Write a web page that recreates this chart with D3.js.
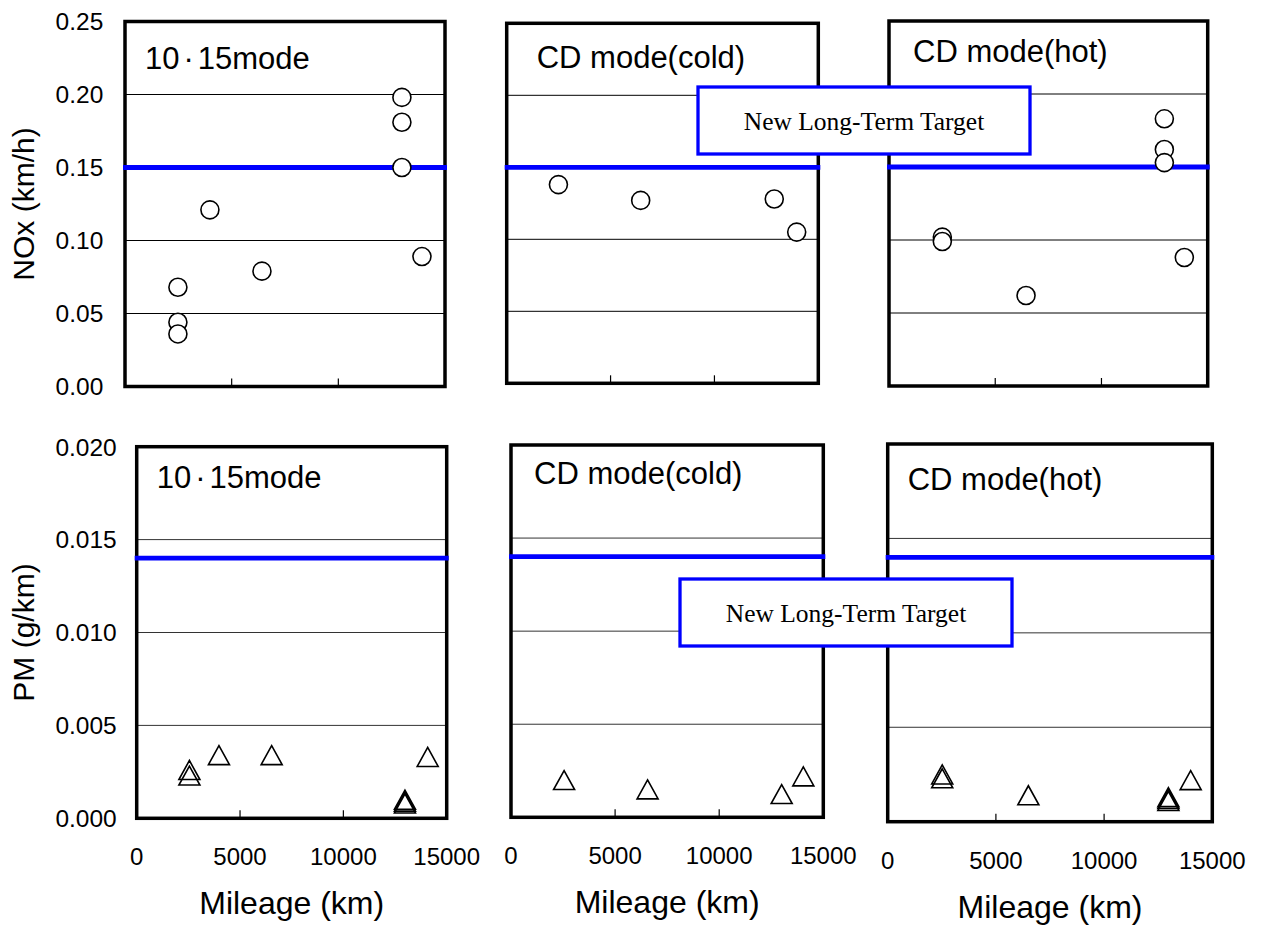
<!DOCTYPE html>
<html><head><meta charset="utf-8">
<script src="https://cdn.jsdelivr.net/npm/d3@7"></script>
<style>body{margin:0;background:#fff;} svg{display:block;}</style>
</head><body><svg id="chart" width="1261" height="926"></svg>
<script>
// ---- data ----
const mileageTicks = [0, 5000, 10000, 15000];
const mileageTickLabels = ["0", "5000", "10000", "15000"];
const noxTicks = [0, 0.05, 0.10, 0.15, 0.20, 0.25];
const noxTickLabels = ["0.00", "0.05", "0.10", "0.15", "0.20", "0.25"];
const pmTicks = [0, 0.005, 0.010, 0.015, 0.020];
const pmTickLabels = ["0.000", "0.005", "0.010", "0.015", "0.020"];
const modeNames = ["10\u00B715mode", "CD mode(cold)", "CD mode(hot)"];
const noxTitle = "NOx (km/h)";
const pmTitle = "PM (g/km)";
const xTitle = "Mileage (km)";
const targetLabel = "New Long-Term Target";
const noxLimit = 0.15;
const pmLimit = 0.014;

const noxMileage1015 = [2480, 2480, 2480, 3980, 6420, 12980, 12980, 12980, 13920];
const noxValues1015  = [0.068, 0.044, 0.036, 0.121, 0.079, 0.198, 0.181, 0.150, 0.089];
const noxMileageCold = [2490, 6450, 12880, 13960];
const noxValuesCold  = [0.138, 0.127, 0.128, 0.105];
const noxMileageHot  = [2510, 2510, 6450, 12960, 12960, 12960, 13900];
const noxValuesHot   = [0.102, 0.099, 0.062, 0.183, 0.162, 0.153, 0.088];

const pmMileage1015 = [2550, 2550, 3980, 6530, 12980, 12980, 12980, 14080];
const pmValues1015  = [0.0026, 0.0023, 0.0034, 0.0034, 0.0010, 0.0009, 0.0008, 0.0033];
const pmMileageCold = [2550, 6560, 13000, 14040];
const pmValuesCold  = [0.0020, 0.0015, 0.00125, 0.0022];
const pmMileageHot  = [2520, 2520, 6500, 12970, 12970, 12970, 14000];
const pmValuesHot   = [0.0025, 0.0023, 0.0014, 0.0013, 0.0012, 0.0011, 0.0022];

// ---- layout ----
const frames = [
  [{l:125, r:445, t:21.5, b:386.5, tx:20, ty:47},
   {l:506.7, r:818.3, t:23.3, b:383.3, tx:30, ty:45},
   {l:889, r:1207.7, t:21, b:386, tx:24, ty:41}],
  [{l:136.7, r:446.7, t:446.7, b:818.3, tx:20, ty:41},
   {l:511, r:823.3, t:445, b:817.3, tx:23, ty:39},
   {l:887.7, r:1212.3, t:444, b:821.7, tx:20, ty:46}]
];
const targetBoxes = [{x:698, y:87, w:332, h:67}, {x:680, y:579, w:332, h:67}];
const FONT = "'Liberation Sans', Arial, sans-serif";
const BLUE = "#0000ff";

const rows = [
  {domain:[0,0.25], ticks:noxTicks, labels:noxTickLabels, limit:noxLimit, marker:"circle", title:noxTitle, labelGap:21.7,
   series:[[noxMileage1015, noxValues1015],[noxMileageCold, noxValuesCold],[noxMileageHot, noxValuesHot]]},
  {domain:[0,0.02], ticks:pmTicks, labels:pmTickLabels, limit:pmLimit, marker:"triangle", title:pmTitle, labelGap:20,
   series:[[pmMileage1015, pmValues1015],[pmMileageCold, pmValuesCold],[pmMileageHot, pmValuesHot]]}
];

const svg = d3.select("#chart");
svg.append("rect").attr("width",1261).attr("height",926).attr("fill","#fff");

const triW = 21, triH = 19;
function triPath(cx, cy){
  return `M${cx},${cy - triH/2}L${cx + triW/2},${cy + triH/2}L${cx - triW/2},${cy + triH/2}Z`;
}

function writeTitle(sel, name){
  const dot = name.indexOf("\u00B7");
  if (dot < 0) { sel.text(name); return; }
  sel.append("tspan").text(name.slice(0, dot));
  sel.append("tspan").attr("dx", 4).text(name[dot]);
  sel.append("tspan").attr("dx", 4).text(name.slice(dot + 1));
}

rows.forEach((row, ri) => {
  row.series.forEach((s, ci) => {
    const f = frames[ri][ci];
    const x = d3.scaleLinear().domain([0,15000]).range([f.l, f.r]);
    const y = d3.scaleLinear().domain(row.domain).range([f.b, f.t]);
    const g = svg.append("g");

    // gridlines
    g.selectAll("line.grid").data(row.ticks.slice(1, -1)).join("line")
      .attr("x1", f.l).attr("x2", f.r)
      .attr("y1", d => y(d)).attr("y2", d => y(d))
      .attr("stroke", ri === 0 ? "#000" : "#333").attr("stroke-width", 1);

    // inward x tick marks
    g.selectAll("line.xt").data(mileageTicks.slice(1, -1)).join("line")
      .attr("x1", d => x(d)).attr("x2", d => x(d))
      .attr("y1", f.b).attr("y2", f.b - 8)
      .attr("stroke", "#000").attr("stroke-width", 1.2);

    // frame
    g.append("rect").attr("x", f.l).attr("y", f.t)
      .attr("width", f.r - f.l).attr("height", f.b - f.t)
      .attr("fill", "none").attr("stroke", "#000").attr("stroke-width", 3.5);

    // limit line
    g.append("line").attr("x1", x(0) - 2).attr("x2", x(15000) + 2)
      .attr("y1", y(row.limit)).attr("y2", y(row.limit))
      .attr("stroke", BLUE).attr("stroke-width", 4.8);

    // mode title
    const tt = g.append("text").attr("x", f.l + f.tx).attr("y", f.t + f.ty)
      .attr("font-family", FONT).attr("font-size", 31).attr("fill", "#000");
    writeTitle(tt, modeNames[ci]);

    // points
    const pts = s[0].map((m, i) => ({m, v: s[1][i]}));
    if (row.marker === "circle") {
      g.selectAll("circle.pt").data(pts).join("circle")
        .attr("cx", d => x(d.m)).attr("cy", d => y(d.v)).attr("r", 9)
        .attr("fill", "#fff").attr("stroke", "#000").attr("stroke-width", 1.6);
    } else {
      g.selectAll("path.pt").data(pts).join("path")
        .attr("d", d => triPath(x(d.m), y(d.v)))
        .attr("fill", "none").attr("stroke", "#000").attr("stroke-width", 1.6)
        .attr("stroke-linejoin", "miter");
    }

    // y tick labels (left column)
    if (ci === 0) {
      g.selectAll("text.yt").data(row.ticks).join("text")
        .attr("x", f.l - row.labelGap).attr("y", d => y(d)).attr("dy", "0.36em")
        .attr("text-anchor", "end").attr("font-family", FONT).attr("font-size", 24.5)
        .text((d, i) => row.labels[i]);
      const cy = (f.t + f.b) / 2;
      g.append("text").attr("transform", `translate(33.5,${cy}) rotate(-90)`)
        .attr("text-anchor", "middle").attr("font-family", FONT).attr("font-size", 30)
        .text(row.title);
    }

    // x tick labels & title (bottom row)
    if (ri === 1) {
      g.selectAll("text.xt").data(mileageTicks).join("text")
        .attr("x", d => x(d)).attr("y", f.b + 47).attr("text-anchor", "middle")
        .attr("font-family", FONT).attr("font-size", 24)
        .text((d, i) => mileageTickLabels[i]);
      g.append("text").attr("x", (f.l + f.r) / 2).attr("y", f.b + 96)
        .attr("text-anchor", "middle").attr("font-family", FONT).attr("font-size", 32)
        .text(xTitle);
    }
  });
});

// target annotation boxes (drawn on top)
targetBoxes.forEach(b => {
  svg.append("rect").attr("x", b.x).attr("y", b.y).attr("width", b.w).attr("height", b.h)
    .attr("fill", "#fff").attr("stroke", BLUE).attr("stroke-width", 3.3);
  svg.append("text").attr("x", b.x + b.w / 2).attr("y", b.y + b.h / 2 + 9)
    .attr("text-anchor", "middle").attr("font-family", "'Liberation Serif', 'Times New Roman', serif")
    .attr("font-size", 25.5).text(targetLabel);
});
</script>
</body></html>
